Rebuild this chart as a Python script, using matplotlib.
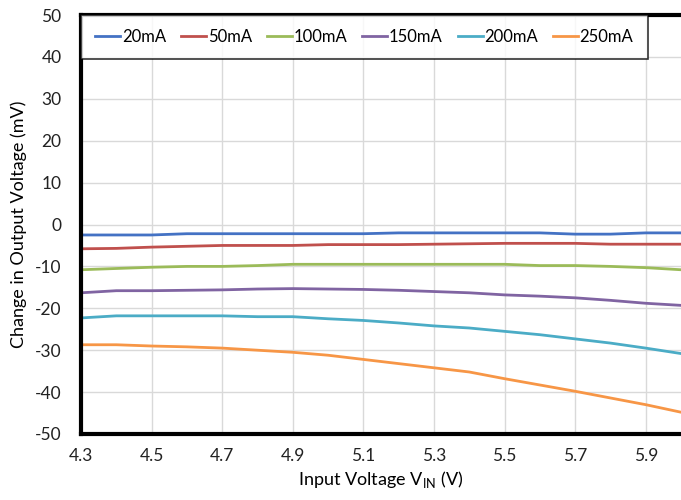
import matplotlib
matplotlib.use("Agg")
import matplotlib.pyplot as plt

# data (change in output voltage, mV)
vin = [4.3, 4.4, 4.5, 4.6, 4.7, 4.8, 4.9, 5.0, 5.1, 5.2, 5.3, 5.4, 5.5, 5.6, 5.7, 5.8, 5.9, 6.0]

i20 = [-2.5, -2.5, -2.5, -2.2, -2.2, -2.2, -2.2, -2.2, -2.2, -2.0, -2.0, -2.0, -2.0, -2.0, -2.3, -2.3, -2.0, -2.0]
i50 = [-5.8, -5.7, -5.4, -5.2, -5.0, -5.0, -5.0, -4.8, -4.8, -4.8, -4.7, -4.6, -4.5, -4.5, -4.5, -4.7, -4.7, -4.7]
i100 = [-10.8, -10.5, -10.2, -10.0, -10.0, -9.8, -9.5, -9.5, -9.5, -9.5, -9.5, -9.5, -9.5, -9.8, -9.8, -10.0, -10.3, -10.8]
i150 = [-16.3, -15.8, -15.8, -15.7, -15.6, -15.4, -15.3, -15.4, -15.5, -15.7, -16.0, -16.3, -16.8, -17.1, -17.5, -18.1, -18.8, -19.3]
i200 = [-22.3, -21.8, -21.8, -21.8, -21.8, -22.0, -22.0, -22.5, -22.9, -23.5, -24.2, -24.7, -25.5, -26.3, -27.3, -28.3, -29.5, -30.8]
i250 = [-28.7, -28.7, -29.0, -29.2, -29.5, -30.0, -30.5, -31.2, -32.2, -33.2, -34.2, -35.2, -36.8, -38.3, -39.8, -41.4, -43.0, -44.8]

labels = ["20mA", "50mA", "100mA", "150mA", "200mA", "250mA"]
colors = ["#4472c4", "#c0504d", "#9bbb59", "#8064a2", "#4bacc6", "#f79646"]

x_ticks = [4.3, 4.5, 4.7, 4.9, 5.1, 5.3, 5.5, 5.7, 5.9]
y_ticks = list(range(-50, 51, 10))


def main():
    plt.rcParams["font.family"] = ["Lato", "DejaVu Sans"]
    plt.rcParams["mathtext.fontset"] = "custom"
    plt.rcParams["mathtext.rm"] = "Lato"
    plt.rcParams["axes.unicode_minus"] = False

    fig = plt.figure(figsize=(6.81, 5.0), dpi=100)
    ax = fig.add_axes([81 / 681, 1 - 434 / 500, 1 - 81 / 681, (434 - 15) / 500])

    series = [i20, i50, i100, i150, i200, i250]
    for vals, lab, col in zip(series, labels, colors):
        ax.plot(vin, vals, color=col, linewidth=2.0, label=lab)

    ax.set_xlim(4.3, 6.0)
    ax.set_ylim(-50, 50)
    ax.set_xticks(x_ticks)
    ax.set_yticks(y_ticks)
    ax.set_xticklabels([f"{t:.1f}" for t in x_ticks])
    ax.tick_params(length=0, labelsize=12.5, colors="#222222", pad=10)
    ax.tick_params(axis="y", pad=14)

    ax.grid(True, color="#d9d9d9", linewidth=1.0)
    ax.set_axisbelow(True)

    for side in ["left", "bottom", "top"]:
        ax.spines[side].set_linewidth(3)
        ax.spines[side].set_color("black")
    ax.spines["right"].set_visible(False)

    ax.set_ylabel("Change in Output Voltage (mV)", fontsize=13, labelpad=6)
    ax.set_xlabel(r"Input Voltage V$_{\mathrm{IN}}$ (V)", fontsize=13, labelpad=4)

    leg = ax.legend(loc="upper left", ncol=6, bbox_to_anchor=(0.0, 1.0),
                    frameon=True, fancybox=False, fontsize=12,
                    handlelength=1.5, handletextpad=0.1, columnspacing=0.9,
                    borderaxespad=0.0, borderpad=0.85)
    leg.get_frame().set_edgecolor("black")
    leg.get_frame().set_linewidth(1.2)

    fig.savefig("out.png", dpi=100)


if __name__ == "__main__":
    main()
